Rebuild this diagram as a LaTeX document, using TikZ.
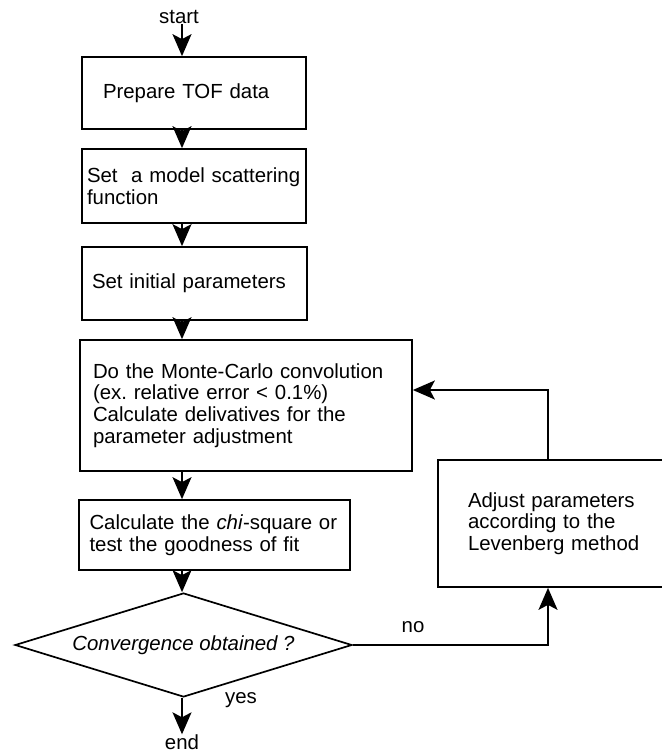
\documentclass[tikz,border=0pt]{standalone}
\usepackage{fontspec}
\setmainfont{Liberation Sans}
\usetikzlibrary{arrows.meta,shapes.geometric}
\tikzset{
	flowline/.style={line width=1.7pt, -{Stealth[length=22pt, width=19pt, inset=5pt]}},
	box/.style={draw, line width=1.7pt, align=left, inner ysep=0pt, font=\fontsize{20.4}{21.7}\selectfont},
	label/.style={inner sep=0pt, font=\fontsize{20.4}{21.7}\selectfont},
	decision/.style={draw, line width=1.7pt, shape=diamond, aspect=3.24, inner sep=0pt, minimum width=337pt, minimum height=104pt, font=\fontsize{20.4}{21.7}\itshape}
}

\begin{document}
\begin{tikzpicture}[x=1pt, y=-1pt]
		%%%%% START %%%%%
		\useasboundingbox (0, 0) rectangle (661, 754);
		
		\coordinate (spine) at (182, 0);
		\coordinate (turn) at (548, 390);
		
		\node[label] (start) at (179, 17) {start};
		\node[box, text width=182pt, inner xsep=21pt, minimum height=72pt] (prep) at (194, 93) {Prepare TOF data};
		\node[box, text width=214pt, inner xsep=5pt, minimum height=74pt] (model) at (194, 186) {\mbox{Set\ \ a model scattering}\\function};
		\node[box, text width=205pt, inner xsep=10pt, minimum height=73pt] (init) at (194.5, 283.5) {Set initial parameters};
		\node[box, text width=306pt, inner xsep=13pt, minimum height=131pt] (mc) at (246, 405.5) {Do the Monte-Carlo convolution\\(ex.\ relative error < 0.1\%)\\Calculate delivatives for the\\parameter adjustment};
		\node[box, text width=250pt, inner xsep=10.5pt, minimum height=70pt] (chi) at (214.5, 535) {Calculate the \textit{chi}-square or\\test the goodness of fit};
		\node[decision] (conv) at (183.5, 645) {Convergence obtained ?};
		\node[box, text width=182pt, inner xsep=30pt, minimum height=127pt] (adj) at (559, 523.5) {Adjust parameters\\according to the\\Levenberg method};
		\node[label] (end) at (182, 742) {end};
		
		\node[label] (no) at (413, 627) {no};
		\node[label] (yes) at (241, 700) {yes};
		
		\draw[flowline] (spine |- start.south) -- (spine |- prep.north);
		\draw[flowline] (spine |- prep.south) -- (spine |- model.north);
		\draw[flowline] (spine |- model.south) -- (spine |- init.north);
		\draw[flowline] (spine |- init.south) -- (spine |- mc.north);
		\draw[flowline] (spine |- mc.south) -- (spine |- chi.north);
		\draw[flowline] (spine |- chi.south) -- (spine |- conv.north);
		\draw[flowline] (spine |- conv.south) -- (spine |- end.north);
		
		\draw[flowline] (conv.east) -- (conv.east -| turn) -- (turn |- adj.south);
		\draw[flowline] (turn |- adj.north) -- (turn) -- (turn -| mc.east);
		
		%%%%% END %%%%%
	\end{tikzpicture}
\end{document}
